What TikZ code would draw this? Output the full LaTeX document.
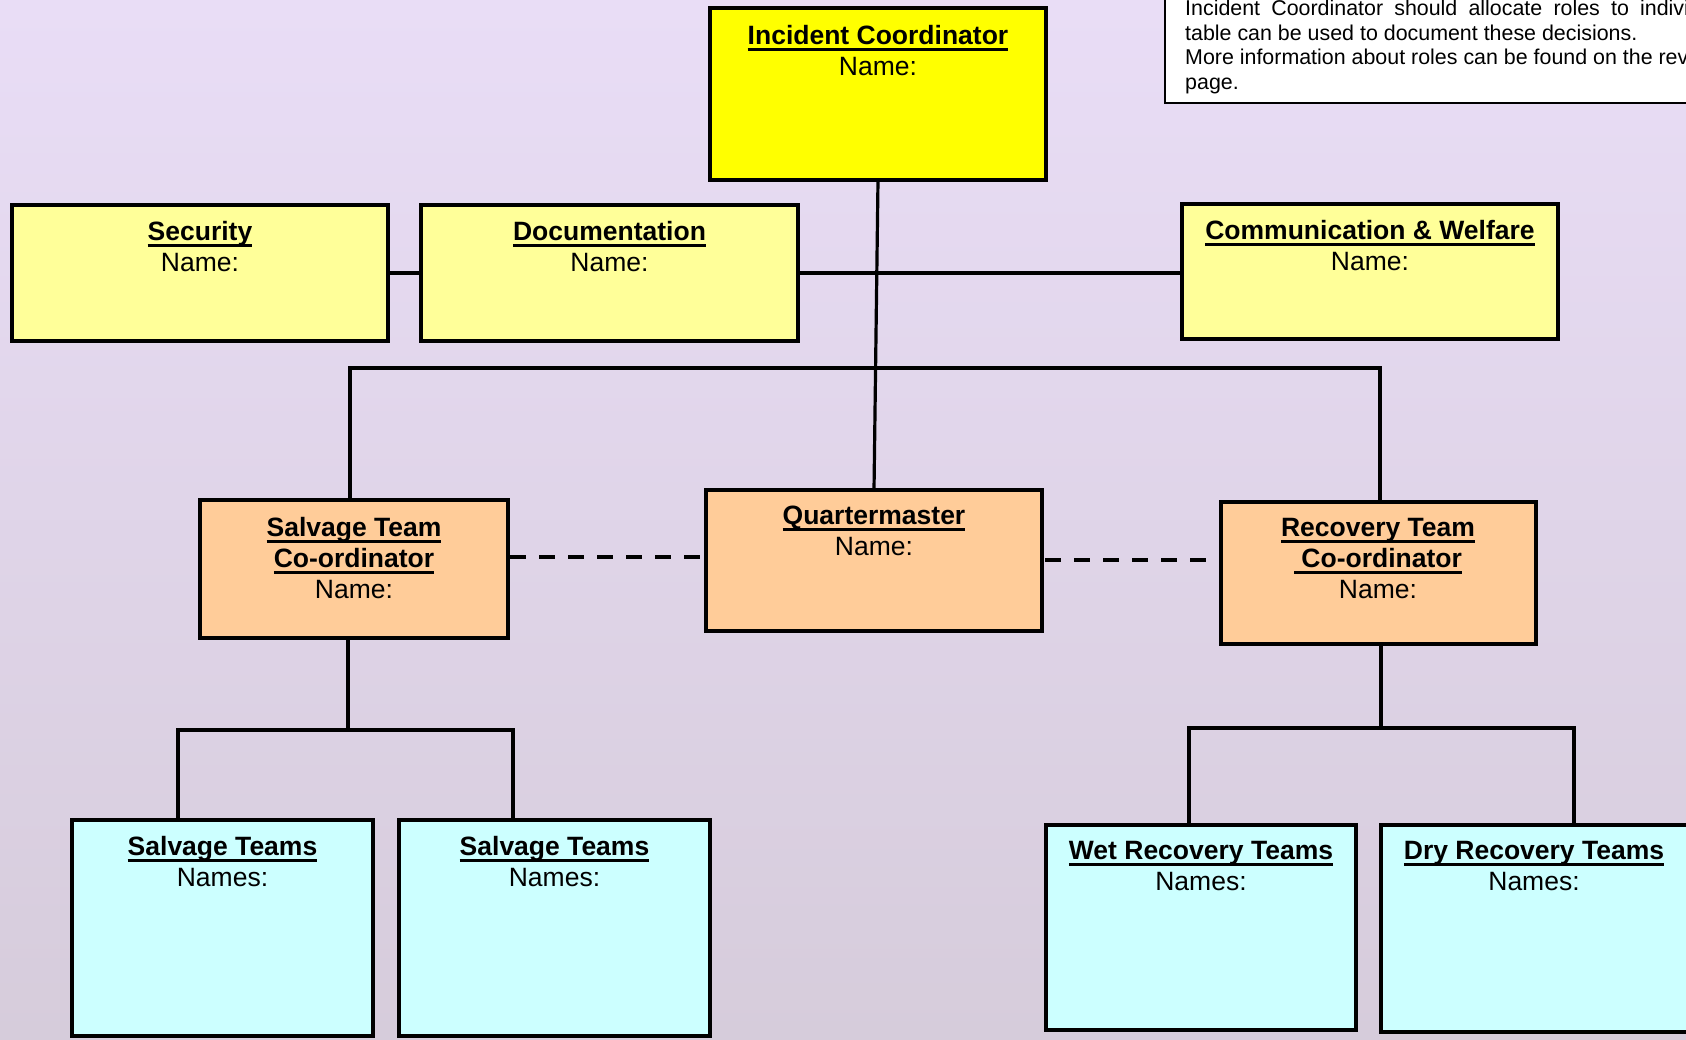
\documentclass[tikz,border=0pt]{standalone}
\usepackage{fontspec}
\setmainfont{Liberation Sans}
\definecolor{bgtop}{HTML}{E9DDF6}
\definecolor{bgbot}{HTML}{D6CCDB}
\definecolor{icy}{HTML}{FFFF00}
\definecolor{lty}{HTML}{FFFF99}
\definecolor{org}{HTML}{FFCC99}
\definecolor{cyn}{HTML}{CCFFFF}
\newcommand\ulin[1]{\setbox0=\hbox{#1}\rlap{\rule[-6.5pt]{\wd0}{3pt}}\box0}
\newcommand\mkbox[6]{\node[cbox,fill=#6,minimum width={(#4-#2)*1pt},minimum height={(#5-#3)*1pt}] (#1) at ({(#2+#4)/2},{(#3+#5)/2}) {};}
\tikzset{
  cbox/.style={draw=black, line width=4pt, inner sep=0pt, outer sep=0pt},
  ttl/.style={anchor=north, align=center, inner sep=0pt, font=\fontsize{26.5}{31}\selectfont},
  conn/.style={draw=black, line width=3.2pt},
  dashline/.style={draw=black, line width=3.8pt, dash pattern=on 16pt off 13pt},
}
\begin{document}
\begin{tikzpicture}[x=1pt,y=-1pt]
\useasboundingbox (0,0) rectangle (1686,1040);
\clip (0,0) rectangle (1686,1040);
\shade[top color=bgtop, bottom color=bgbot] (0,0) rectangle (1686,1040);

% note box (top right, partly outside)
\node[draw=black, line width=2.5pt, fill=white, inner sep=0pt, minimum width=555pt, minimum height=123pt] (note) at ({(1165+1720)/2},{(-20+103.5)/2}) {};
\node[anchor=north west, align=left, inner sep=0pt, font=\fontsize{21.4}{24.4}\selectfont] (notet) at (1185,0.2)
  {{\spaceskip=11.2pt Incident Coordinator should allocate roles to individuals.}\\
   table can be used to document these decisions.\\
   More information about roles can be found on the reverse\\
   page.};

% boxes
\mkbox{ic}{710}{8}{1046}{180}{icy}
\mkbox{sec}{12}{205}{388}{341}{lty}
\mkbox{doc}{421}{205}{798}{341}{lty}
\mkbox{cw}{1182}{204}{1558}{339}{lty}
\mkbox{sc}{200}{500}{508}{638}{org}
\mkbox{qm}{706}{490}{1042}{631}{org}
\mkbox{rc}{1221}{502}{1536}{644}{org}
\mkbox{st1}{72}{820}{373}{1036}{cyn}
\mkbox{st2}{399}{820}{710}{1036}{cyn}
\mkbox{wet}{1046}{825}{1356}{1030}{cyn}
\mkbox{dry}{1381}{825}{1720}{1032}{cyn}

% texts
\node[ttl] (ict) at (878,24.7) {\ulin{\bfseries Incident Coordinator}\\Name:};
\node[ttl] (sect) at (200,221.2) {\ulin{\bfseries Security}\\Name:};
\node[ttl] (doct) at (609.5,221.2) {\ulin{\bfseries Documentation}\\Name:};
\node[ttl] (cwt) at (1370,220.2) {\ulin{\bfseries Communication \& Welfare}\\Name:};
\node[ttl] (sct) at (354,517.2) {\ulin{\bfseries Salvage Team}\\\ulin{\bfseries Co-ordinator}\\Name:};
\node[ttl] (qmt) at (874,506.2) {\ulin{\bfseries Quartermaster}\\Name:};
\node[ttl] (rct) at (1378,518.2) {\ulin{\bfseries Recovery Team}\\\ulin{\bfseries\ Co-ordinator}\\Name:};
\node[ttl] (st1t) at (222.5,836.2) {\ulin{\bfseries Salvage Teams}\\Names:};
\node[ttl] (st2t) at (554.5,836.2) {\ulin{\bfseries Salvage Teams}\\Names:};
\node[ttl] (wett) at (1201,841.2) {\ulin{\bfseries Wet Recovery Teams}\\Names:};
\node[ttl] (dryt) at (1534,841.2) {\ulin{\bfseries Dry Recovery Teams}\\Names:};

% connectors
\draw[conn] (ic.south) -- (qm.north);
\draw[conn] (sec.east) -- (doc.west);
\draw[conn] (doc.east) -- (doc.east -| cw.west);
\coordinate (j1) at (350,368);
\coordinate (j2) at (1380,368);
\draw[conn] (j1 |- sc.north) -- (j1) -- (j2) -- (j2 |- rc.north);
\coordinate (j3) at (348,730);
\coordinate (j3a) at (178,730);
\coordinate (j3b) at (513,730);
\draw[conn] (j3 |- sc.south) -- (j3);
\draw[conn] (j3a |- st1.north) -- (j3a) -- (j3b) -- (j3b |- st2.north);
\coordinate (j4) at (1381,728);
\coordinate (j4a) at (1189,728);
\coordinate (j4b) at (1574,728);
\draw[conn] (j4 |- rc.south) -- (j4);
\draw[conn] (j4a |- wet.north) -- (j4a) -- (j4b) -- (j4b |- dry.north);
\coordinate (d1) at (0,557);
\coordinate (d2) at (0,560);
\draw[dashline, shorten <=2pt] (sc.east |- d1) -- (qm.west |- d1);
\draw[dashline, shorten <=3pt] (qm.east |- d2) -- (rc.west |- d2);
\end{tikzpicture}
\end{document}
